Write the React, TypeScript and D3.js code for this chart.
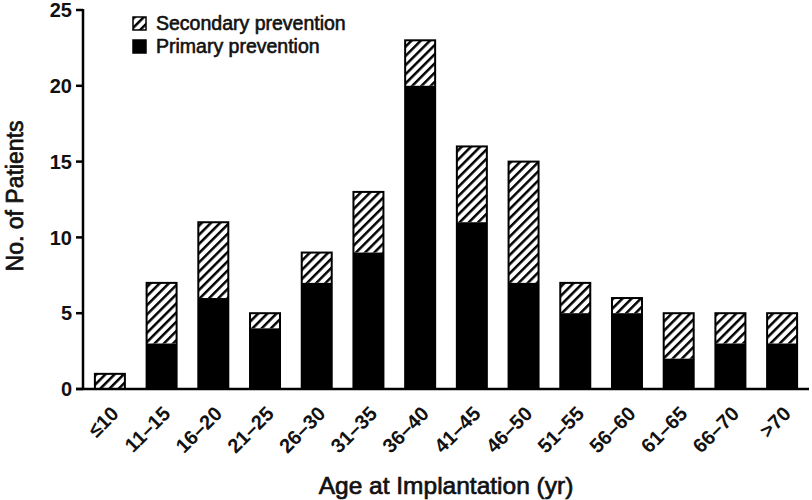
import React from "react";
import * as d3 from "d3";

const categories = ["≤10", "11–15", "16–20", "21–25", "26–30", "31–35", "36–40", "41–45", "46–50", "51–55", "56–60", "61–65", "66–70", ">70"];
const primary = [0, 3, 6, 4, 7, 9, 20, 11, 7, 5, 5, 2, 3, 3];
const secondary = [1, 4, 5, 1, 2, 4, 3, 5, 8, 2, 1, 3, 2, 2];
const yTicks = [0, 5, 10, 15, 20, 25];
const legendLabels = ["Secondary prevention", "Primary prevention"];

const W = 812, H = 500;
const font = "'Liberation Sans', Arial, Helvetica, sans-serif";

export default function App() {
  const x = d3.scaleBand<string>().domain(categories).range([83, 809]).paddingInner(0.42).paddingOuter(0.23);
  const y = d3.scaleLinear().domain([0, 25]).range([389, 10]);
  const bw = x.bandwidth();
  return (
    <svg width={W} height={H} style={{ position: "absolute", left: 0, top: 0, background: "#fff" }}>
      <defs>
        <pattern id="hatch" patternUnits="userSpaceOnUse" width="6.5" height="6.5" patternTransform="rotate(45)">
          <rect width="6.5" height="6.5" fill="#fff" />
          <line x1="0" y1="0" x2="0" y2="6.5" stroke="#000" strokeWidth="5" />
        </pattern>
      </defs>
      {categories.map((c, i) => {
        const x0 = x(c)!;
        const total = primary[i] + secondary[i];
        return (
          <g key={c}>
            {secondary[i] > 0 && (
              <rect x={x0} y={y(total)} width={bw} height={y(primary[i]) - y(total)} fill="url(#hatch)" />
            )}
            {primary[i] > 0 && (
              <rect x={x0} y={y(primary[i])} width={bw} height={y(0) - y(primary[i])} fill="#000" />
            )}
            <rect x={x0} y={y(total)} width={bw} height={y(0) - y(total)} fill="none" stroke="#000" strokeWidth={2} />
          </g>
        );
      })}
      {/* axes */}
      <line x1={83} y1={y(25) - 1} x2={83} y2={y(0) + 1} stroke="#000" strokeWidth={2.5} />
      <line x1={76} y1={y(0)} x2={809} y2={y(0)} stroke="#000" strokeWidth={2.5} />
      {yTicks.map((t) => (
        <g key={t}>
          <line x1={76} x2={83} y1={y(t)} y2={y(t)} stroke="#000" strokeWidth={2.5} />
          <text x={72} y={y(t)} dy="0.36em" textAnchor="end" fontFamily={font} fontSize={20} fontWeight="bold" fill="#111">{t}</text>
        </g>
      ))}
      {categories.map((c) => {
        const cx = x(c)! + bw / 2 + 10;
        return (
          <text key={c} transform={`translate(${cx},${415}) rotate(-45)`} textAnchor="end" fontFamily={font} fontSize={20} fontWeight="bold" fill="#111">{c}</text>
        );
      })}
      <text x={446} y={494} textAnchor="middle" fontFamily={font} fontSize={24.5} fill="#111" stroke="#111" strokeWidth={0.7}>Age at Implantation (yr)</text>
      <text transform={`translate(23,196) rotate(-90)`} textAnchor="middle" fontFamily={font} fontSize={23} fill="#111" stroke="#111" strokeWidth={0.7}>No. of Patients</text>
      {/* legend */}
      {legendLabels.map((l, i) => (
        <g key={l} transform={`translate(133,${17 + i * 23})`}>
          <rect width={13} height={13} fill={i === 0 ? "url(#hatch)" : "#000"} stroke="#000" strokeWidth={1.5} />
          <text x={23} y={13} fontFamily={font} fontSize={19.5} fill="#111" stroke="#111" strokeWidth={0.6}>{l}</text>
        </g>
      ))}
    </svg>
  );
}
